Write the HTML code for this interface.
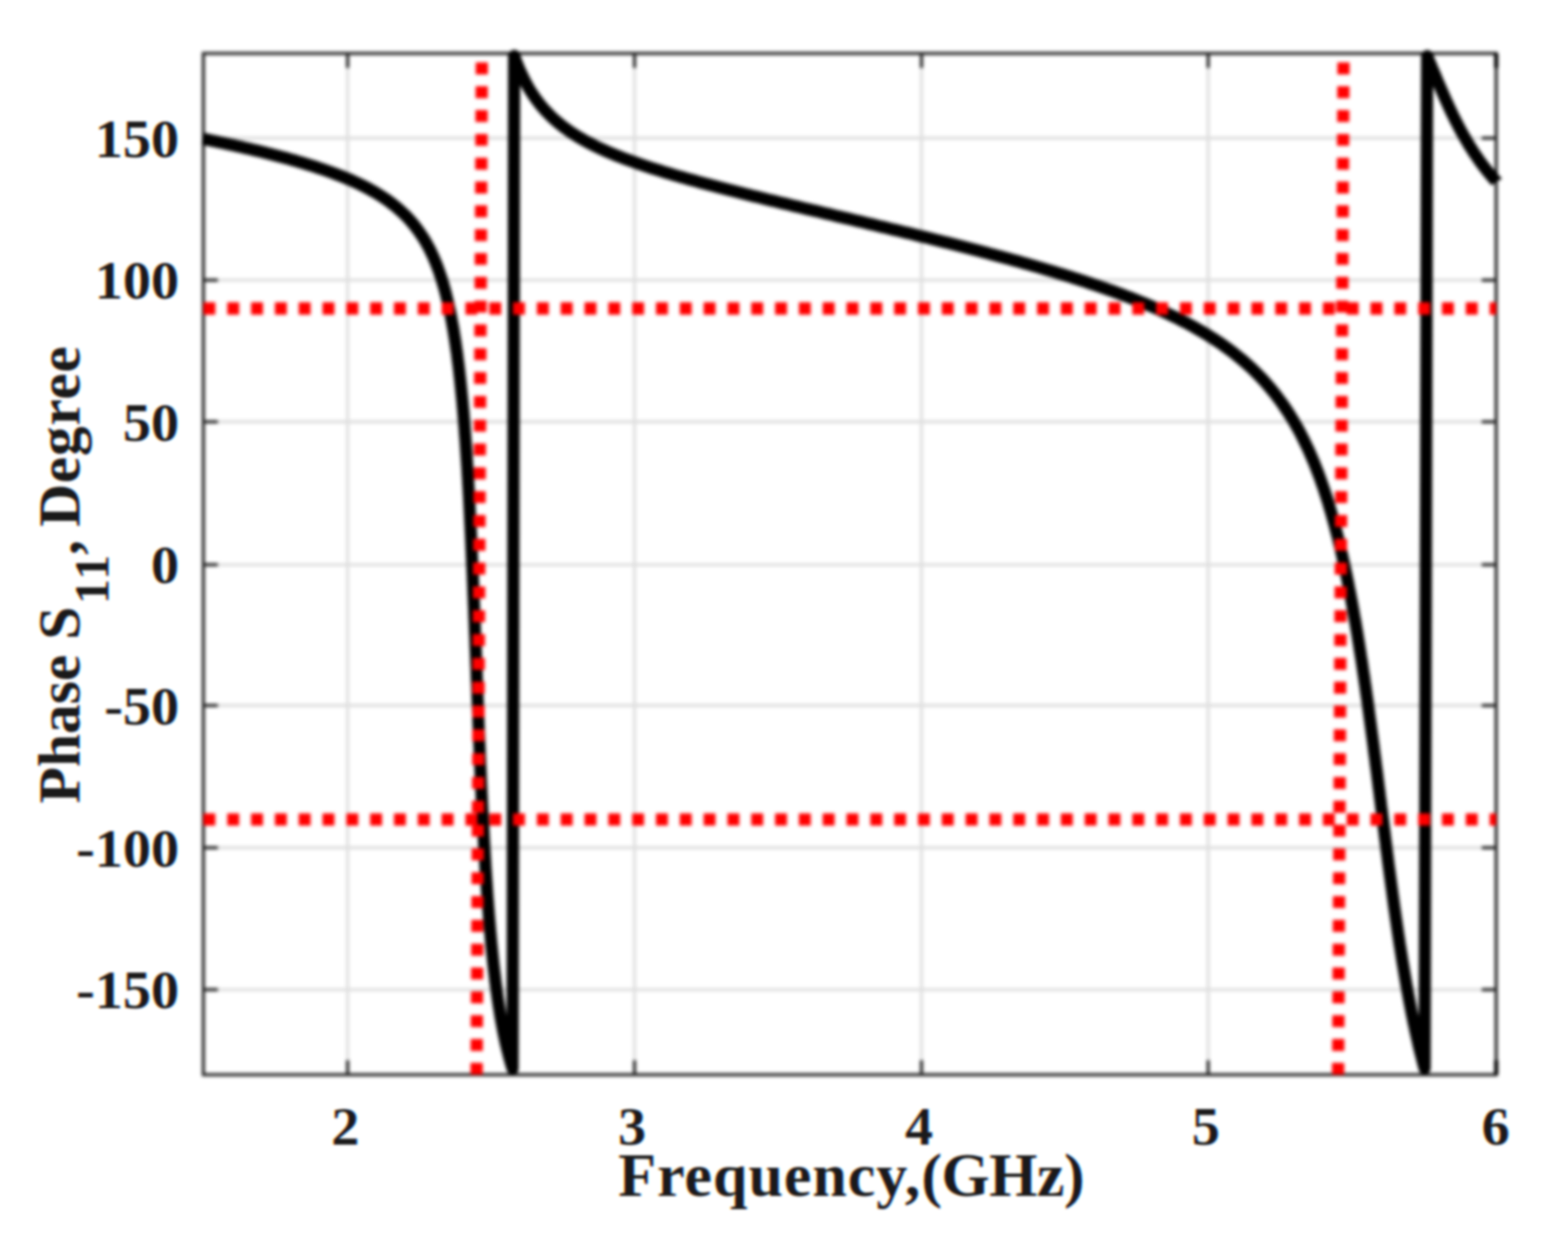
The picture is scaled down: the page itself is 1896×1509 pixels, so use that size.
<!DOCTYPE html>
<html lang="en"><head><meta charset="utf-8"><title>Phase S11 vs Frequency</title>
<style>
html,body{margin:0;padding:0;background:#fff;}
body{width:1896px;height:1509px;overflow:hidden;}
svg{display:block;}
text{font-family:"Liberation Serif","DejaVu Serif",serif;font-weight:bold;fill:#1a1a1a;}
.tk{font-size:66px;}
.lb{font-size:75px;}
.yl{font-size:72px;}
.sub{font-size:60px;}
</style></head><body>
<svg width="1896" height="1509" viewBox="0 0 1896 1509">
<defs>
<filter id="b" x="0" y="0" width="1896" height="1509" filterUnits="userSpaceOnUse" color-interpolation-filters="sRGB"><feGaussianBlur stdDeviation="2.2"/></filter>
<filter id="bt" x="-20" y="-20" width="1936" height="1549" filterUnits="userSpaceOnUse" color-interpolation-filters="sRGB"><feGaussianBlur stdDeviation="1.5" result="b"/><feOffset in="b" dx="1.2" dy="0" result="br"/><feOffset in="b" dx="-1.2" dy="0" result="bb"/><feColorMatrix in="br" type="matrix" values="1 0 0 0 0 0 0 0 0 0 0 0 0 0 0 0 0 0 1 0" result="R"/><feColorMatrix in="b" type="matrix" values="0 0 0 0 0 0 1 0 0 0 0 0 0 0 0 0 0 0 1 0" result="G"/><feColorMatrix in="bb" type="matrix" values="0 0 0 0 0 0 0 0 0 0 0 0 1 0 0 0 0 0 1 0" result="B"/><feComposite in="R" in2="G" operator="arithmetic" k1="0" k2="1" k3="1" k4="0" result="RG"/><feComposite in="RG" in2="B" operator="arithmetic" k1="0" k2="1" k3="1" k4="0"/></filter>
<clipPath id="ct"><path d="M0,0H231V1320H1896V1509H0Z"/></clipPath>
<clipPath id="cr"><rect x="245.9" y="66.6" width="1563.3" height="1232.9"/></clipPath>
</defs>
<rect width="1896" height="1509" fill="#fff"/>
<g filter="url(#b)">
<rect width="1896" height="1509" fill="#fff"/>
<g stroke="#dfdfdf" stroke-width="3.8" fill="none">
<line x1="420.4" y1="64.6" x2="420.4" y2="1299.5"/>
<line x1="767.3" y1="64.6" x2="767.3" y2="1299.5"/>
<line x1="1114.3" y1="64.6" x2="1114.3" y2="1299.5"/>
<line x1="1460.9" y1="64.6" x2="1460.9" y2="1299.5"/>
<line x1="245.9" y1="167.0" x2="1809.2" y2="167.0"/>
<line x1="245.9" y1="338.7" x2="1809.2" y2="338.7"/>
<line x1="245.9" y1="510.0" x2="1809.2" y2="510.0"/>
<line x1="245.9" y1="682.8" x2="1809.2" y2="682.8"/>
<line x1="245.9" y1="853.0" x2="1809.2" y2="853.0"/>
<line x1="245.9" y1="1025.0" x2="1809.2" y2="1025.0"/>
<line x1="245.9" y1="1196.6" x2="1809.2" y2="1196.6"/>
</g>
<g stroke="#262626" stroke-width="3.8" fill="none">
<rect x="245.9" y="64.6" width="1563.3" height="1234.9"/>
<line x1="420.4" y1="64.6" x2="420.4" y2="82.1"/><line x1="420.4" y1="1299.5" x2="420.4" y2="1282.0"/>
<line x1="767.3" y1="64.6" x2="767.3" y2="82.1"/><line x1="767.3" y1="1299.5" x2="767.3" y2="1282.0"/>
<line x1="1114.3" y1="64.6" x2="1114.3" y2="82.1"/><line x1="1114.3" y1="1299.5" x2="1114.3" y2="1282.0"/>
<line x1="1460.9" y1="64.6" x2="1460.9" y2="82.1"/><line x1="1460.9" y1="1299.5" x2="1460.9" y2="1282.0"/>
<line x1="1809.2" y1="64.6" x2="1809.2" y2="82.1" stroke="#000" stroke-width="5"/><line x1="1809.2" y1="1299.5" x2="1809.2" y2="1282.0" stroke="#000" stroke-width="5"/>
<line x1="245.9" y1="167.0" x2="263.4" y2="167.0"/><line x1="1809.2" y1="167.0" x2="1791.7" y2="167.0"/>
<line x1="245.9" y1="338.7" x2="263.4" y2="338.7"/><line x1="1809.2" y1="338.7" x2="1791.7" y2="338.7"/>
<line x1="245.9" y1="510.0" x2="263.4" y2="510.0"/><line x1="1809.2" y1="510.0" x2="1791.7" y2="510.0"/>
<line x1="245.9" y1="682.8" x2="263.4" y2="682.8"/><line x1="1809.2" y1="682.8" x2="1791.7" y2="682.8"/>
<line x1="245.9" y1="853.0" x2="263.4" y2="853.0"/><line x1="1809.2" y1="853.0" x2="1791.7" y2="853.0"/>
<line x1="245.9" y1="1025.0" x2="263.4" y2="1025.0"/><line x1="1809.2" y1="1025.0" x2="1791.7" y2="1025.0"/>
<line x1="245.9" y1="1196.6" x2="263.4" y2="1196.6"/><line x1="1809.2" y1="1196.6" x2="1791.7" y2="1196.6"/>
</g>
<path d="M245.4,167.8 248.3,168.4 251.2,169.0 254.2,169.6 257.1,170.3 260.1,170.9 263.0,171.5 265.9,172.1 268.9,172.7 271.8,173.4 274.7,174.0 277.7,174.6 280.6,175.3 283.5,175.9 286.4,176.6 289.4,177.2 292.3,177.9 295.2,178.6 298.1,179.3 301.1,179.9 304.0,180.6 306.9,181.3 309.8,182.0 312.7,182.7 315.7,183.4 318.6,184.1 321.5,184.9 324.4,185.6 327.3,186.3 330.2,187.1 333.1,187.8 336.0,188.6 338.9,189.4 341.8,190.1 344.7,190.9 347.6,191.7 350.5,192.5 353.4,193.3 356.3,194.1 359.1,195.0 362.0,195.8 364.9,196.7 367.8,197.5 370.6,198.4 373.5,199.3 376.4,200.2 379.2,201.1 382.1,202.0 384.9,203.0 387.8,203.9 390.6,204.9 393.5,205.9 396.3,206.9 399.1,207.9 401.9,208.9 404.7,210.0 407.5,211.0 410.3,212.1 413.1,213.2 415.9,214.3 418.7,215.5 421.4,216.6 424.2,217.8 426.9,219.0 429.7,220.3 432.4,221.5 435.1,222.8 437.8,224.1 440.5,225.5 443.2,226.9 445.8,228.3 448.4,229.7 451.1,231.2 453.7,232.7 456.2,234.2 458.8,235.8 461.3,237.4 463.8,239.0 466.3,240.7 468.8,242.4 471.2,244.2 473.6,246.0 476.0,247.8 478.3,249.7 480.6,251.6 482.9,253.6 485.1,255.6 487.3,257.6 489.5,259.7 491.6,261.8 493.7,264.0 495.7,266.2 497.7,268.5 499.6,270.8 501.5,273.1 503.3,275.5 505.1,277.9 506.9,280.3 508.6,282.8 510.3,285.3 511.9,287.8 513.4,290.3 515.0,292.9 516.4,295.5 517.9,298.2 519.3,300.8 520.6,303.5 521.9,306.2 523.2,308.9 524.4,311.7 525.6,314.4 526.7,317.2 527.9,320.0 528.9,322.8 530.0,325.6 531.0,328.4 532.0,331.3 532.9,334.1 533.9,337.0 534.8,339.8 535.6,342.7 536.5,345.6 537.3,348.5 538.1,351.3 538.8,354.2 539.6,357.2 540.3,360.1 541.0,363.0 541.7,365.9 542.4,368.8 543.0,371.8 543.7,374.7 544.3,377.6 544.9,380.6 545.5,383.5 546.0,386.5 546.6,389.4 547.1,392.4 547.6,395.3 548.2,398.3 548.7,401.2 549.1,404.2 549.6,407.1 550.1,410.1 550.5,413.1 551.0,416.0 551.4,419.0 551.8,422.0 552.3,424.9 552.7,427.9 553.1,430.9 553.4,433.9 553.8,436.8 554.2,439.8 554.6,442.8 554.9,445.8 555.3,448.8 555.6,451.7 555.9,454.7 556.3,457.7 556.6,460.7 556.9,463.7 557.2,466.6 557.5,469.6 557.8,472.6 558.1,475.6 558.4,478.6 558.7,481.6 559.0,484.6 559.3,487.6 559.5,490.5 559.8,493.5 560.1,496.5 560.3,499.5 560.6,502.5 560.8,505.5 561.1,508.5 561.3,511.5 561.5,514.5 561.8,517.4 562.0,520.4 562.2,523.4 562.4,526.4 562.7,529.4 562.9,532.4 563.1,535.4 563.3,538.4 563.5,541.4 563.7,544.4 563.9,547.4 564.1,550.4 564.3,553.4 564.5,556.3 564.7,559.3 564.9,562.3 565.1,565.3 565.3,568.3 565.4,571.3 565.6,574.3 565.8,577.3 566.0,580.3 566.1,583.3 566.3,586.3 566.5,589.3 566.7,592.3 566.8,595.3 567.0,598.3 567.2,601.3 567.3,604.3 567.5,607.3 567.6,610.3 567.8,613.3 567.9,616.2 568.1,619.2 568.2,622.2 568.4,625.2 568.5,628.2 568.7,631.2 568.8,634.2 569.0,637.2 569.1,640.2 569.3,643.2 569.4,646.2 569.6,649.2 569.7,652.2 569.8,655.2 570.0,658.2 570.1,661.2 570.2,664.2 570.4,667.2 570.5,670.2 570.6,673.2 570.8,676.2 570.9,679.2 571.0,682.2 571.2,685.2 571.3,688.2 571.4,691.2 571.6,694.2 571.7,697.2 571.8,700.2 571.9,703.2 572.1,706.2 572.2,709.2 572.3,712.2 572.4,715.1 572.5,718.1 572.7,721.1 572.8,724.1 572.9,727.1 573.0,730.1 573.2,733.1 573.3,736.1 573.4,739.1 573.5,742.1 573.6,745.1 573.7,748.1 573.9,751.1 574.0,754.1 574.1,757.1 574.2,760.1 574.3,763.1 574.4,766.1 574.6,769.1 574.7,772.1 574.8,775.1 574.9,778.1 575.0,781.1 575.1,784.1 575.3,787.1 575.4,790.1 575.5,793.1 575.6,796.1 575.7,799.1 575.8,802.1 575.9,805.1 576.1,808.1 576.2,811.1 576.3,814.1 576.4,817.1 576.5,820.1 576.6,823.1 576.8,826.1 576.9,829.1 577.0,832.1 577.1,835.1 577.2,838.1 577.3,841.1 577.4,844.0 577.6,847.0 577.7,850.0 577.8,853.0 577.9,856.0 578.0,859.0 578.2,862.0 578.3,865.0 578.4,868.0 578.5,871.0 578.6,874.0 578.7,877.0 578.9,880.0 579.0,883.0 579.1,886.0 579.2,889.0 579.4,892.0 579.5,895.0 579.6,898.0 579.7,901.0 579.9,904.0 580.0,907.0 580.1,910.0 580.2,913.0 580.4,916.0 580.5,919.0 580.6,922.0 580.7,925.0 580.9,928.0 581.0,931.0 581.1,934.0 581.3,937.0 581.4,940.0 581.5,943.0 581.7,946.0 581.8,949.0 582.0,952.0 582.1,955.0 582.2,957.9 582.4,960.9 582.5,963.9 582.7,966.9 582.8,969.9 582.9,972.9 583.1,975.9 583.2,978.9 583.4,981.9 583.5,984.9 583.7,987.9 583.8,990.9 584.0,993.9 584.1,996.9 584.3,999.9 584.5,1002.9 584.6,1005.9 584.8,1008.9 584.9,1011.9 585.1,1014.9 585.3,1017.9 585.4,1020.9 585.6,1023.9 585.8,1026.9 586.0,1029.9 586.1,1032.8 586.3,1035.8 586.5,1038.8 586.7,1041.8 586.8,1044.8 587.0,1047.8 587.2,1050.8 587.4,1053.8 587.6,1056.8 587.8,1059.8 588.0,1062.8 588.2,1065.8 588.4,1068.8 588.6,1071.8 588.8,1074.8 589.0,1077.8 589.2,1080.7 589.4,1083.7 589.6,1086.7 589.9,1089.7 590.1,1092.7 590.3,1095.7 590.5,1098.7 590.8,1101.7 591.0,1104.7 591.2,1107.7 591.5,1110.7 591.7,1113.7 592.0,1116.6 592.2,1119.6 592.5,1122.6 592.7,1125.6 593.0,1128.6 593.3,1131.6 593.5,1134.6 593.8,1137.6 594.1,1140.5 594.4,1143.5 594.7,1146.5 595.0,1149.5 595.3,1152.5 595.6,1155.5 595.9,1158.5 596.2,1161.4 596.5,1164.4 596.8,1167.4 597.2,1170.4 597.5,1173.4 597.9,1176.3 598.2,1179.3 598.6,1182.3 598.9,1185.3 599.3,1188.3 599.7,1191.2 600.1,1194.2 600.5,1197.2 600.9,1200.2 601.3,1203.1 601.7,1206.1 602.1,1209.1 602.6,1212.0 603.0,1215.0 603.5,1218.0 604.0,1220.9 604.4,1223.9 604.9,1226.9 605.4,1229.8 605.9,1232.8 606.5,1235.7 607.0,1238.7 607.6,1241.6 608.1,1244.6 608.7,1247.5 609.3,1250.4 609.9,1253.4 610.5,1256.3 611.2,1259.2 611.8,1262.2 612.5,1265.1 613.2,1268.0 613.9,1270.9 614.7,1273.8 615.4,1276.7 616.2,1279.6 617.0,1282.5 617.8,1285.4 618.7,1288.3 619.6,1291.2 619.8,1292.1 L621.7,67.6 622.7,70.4 623.7,73.2 624.8,76.0 625.9,78.8 627.1,81.6 628.2,84.4 629.5,87.1 630.7,89.8 632.0,92.5 633.3,95.2 634.7,97.9 636.1,100.6 637.5,103.2 639.0,105.8 640.5,108.4 642.1,110.9 643.7,113.4 645.4,115.9 647.1,118.4 648.9,120.8 650.7,123.2 652.5,125.6 654.4,127.9 656.4,130.2 658.4,132.5 660.4,134.7 662.5,136.8 664.6,139.0 666.7,141.1 668.9,143.1 671.1,145.1 673.4,147.1 675.7,149.0 678.0,150.9 680.4,152.8 682.8,154.6 685.2,156.3 687.7,158.1 690.1,159.8 692.6,161.4 695.2,163.0 697.7,164.6 700.3,166.2 702.9,167.7 705.5,169.2 708.1,170.6 710.7,172.0 713.4,173.4 716.1,174.8 718.7,176.2 721.4,177.5 724.2,178.8 726.9,180.0 729.6,181.3 732.3,182.5 735.1,183.7 737.8,184.9 740.6,186.0 743.4,187.2 746.2,188.3 749.0,189.4 751.8,190.5 754.6,191.6 757.4,192.6 760.2,193.7 763.0,194.7 765.8,195.7 768.6,196.7 771.5,197.7 774.3,198.7 777.1,199.7 780.0,200.6 782.8,201.6 785.7,202.5 788.5,203.4 791.4,204.3 794.3,205.2 797.1,206.1 800.0,207.0 802.9,207.9 805.7,208.8 808.6,209.6 811.5,210.5 814.4,211.4 817.2,212.2 820.1,213.0 823.0,213.9 825.9,214.7 828.8,215.5 831.7,216.3 834.5,217.1 837.4,217.9 840.3,218.7 843.2,219.5 846.1,220.3 849.0,221.1 851.9,221.9 854.8,222.6 857.7,223.4 860.6,224.2 863.5,224.9 866.4,225.7 869.3,226.5 872.2,227.2 875.1,228.0 878.0,228.7 880.9,229.5 883.8,230.2 886.7,230.9 889.7,231.7 892.6,232.4 895.5,233.1 898.4,233.9 901.3,234.6 904.2,235.3 907.1,236.0 910.0,236.8 912.9,237.5 915.9,238.2 918.8,238.9 921.7,239.6 924.6,240.3 927.5,241.1 930.4,241.8 933.3,242.5 936.3,243.2 939.2,243.9 942.1,244.6 945.0,245.3 947.9,246.0 950.8,246.7 953.8,247.4 956.7,248.1 959.6,248.8 962.5,249.5 965.4,250.2 968.3,250.9 971.3,251.6 974.2,252.3 977.1,253.0 980.0,253.7 982.9,254.3 985.9,255.0 988.8,255.7 991.7,256.4 994.6,257.1 997.5,257.8 1000.5,258.5 1003.4,259.2 1006.3,259.9 1009.2,260.6 1012.1,261.3 1015.0,262.0 1018.0,262.7 1020.9,263.3 1023.8,264.0 1026.7,264.7 1029.6,265.4 1032.6,266.1 1035.5,266.8 1038.4,267.5 1041.3,268.2 1044.2,268.9 1047.2,269.6 1050.1,270.3 1053.0,271.0 1055.9,271.7 1058.8,272.4 1061.7,273.1 1064.7,273.8 1067.6,274.5 1070.5,275.2 1073.4,275.9 1076.3,276.6 1079.2,277.3 1082.2,278.0 1085.1,278.7 1088.0,279.4 1090.9,280.1 1093.8,280.8 1096.7,281.5 1099.7,282.2 1102.6,282.9 1105.5,283.6 1108.4,284.3 1111.3,285.1 1114.2,285.8 1117.1,286.5 1120.1,287.2 1123.0,287.9 1125.9,288.6 1128.8,289.4 1131.7,290.1 1134.6,290.8 1137.5,291.5 1140.4,292.3 1143.3,293.0 1146.3,293.7 1149.2,294.5 1152.1,295.2 1155.0,295.9 1157.9,296.7 1160.8,297.4 1163.7,298.2 1166.6,298.9 1169.5,299.7 1172.4,300.4 1175.3,301.2 1178.2,301.9 1181.1,302.7 1184.0,303.4 1186.9,304.2 1189.8,305.0 1192.7,305.7 1195.6,306.5 1198.5,307.3 1201.4,308.0 1204.3,308.8 1207.2,309.6 1210.1,310.4 1213.0,311.2 1215.9,312.0 1218.8,312.7 1221.7,313.5 1224.6,314.3 1227.5,315.1 1230.4,315.9 1233.3,316.7 1236.1,317.6 1239.0,318.4 1241.9,319.2 1244.8,320.0 1247.7,320.8 1250.6,321.7 1253.5,322.5 1256.3,323.3 1259.2,324.2 1262.1,325.0 1265.0,325.9 1267.8,326.7 1270.7,327.6 1273.6,328.4 1276.5,329.3 1279.3,330.2 1282.2,331.1 1285.1,331.9 1287.9,332.8 1290.8,333.7 1293.7,334.6 1296.5,335.5 1299.4,336.4 1302.2,337.3 1305.1,338.3 1308.0,339.2 1310.8,340.1 1313.7,341.1 1316.5,342.0 1319.3,343.0 1322.2,343.9 1325.0,344.9 1327.9,345.8 1330.7,346.8 1333.5,347.8 1336.4,348.8 1339.2,349.8 1342.0,350.8 1344.9,351.8 1347.7,352.8 1350.5,353.9 1353.3,354.9 1356.1,356.0 1358.9,357.0 1361.7,358.1 1364.5,359.1 1367.3,360.2 1370.1,361.3 1372.9,362.4 1375.7,363.5 1378.5,364.7 1381.3,365.8 1384.0,366.9 1386.8,368.1 1389.6,369.3 1392.3,370.4 1395.1,371.6 1397.8,372.8 1400.6,374.0 1403.3,375.3 1406.0,376.5 1408.8,377.8 1411.5,379.0 1414.2,380.3 1416.9,381.6 1419.6,382.9 1422.3,384.2 1425.0,385.5 1427.7,386.9 1430.3,388.3 1433.0,389.6 1435.7,391.0 1438.3,392.5 1440.9,393.9 1443.6,395.3 1446.2,396.8 1448.8,398.3 1451.4,399.8 1454.0,401.3 1456.6,402.8 1459.1,404.4 1461.7,406.0 1464.2,407.6 1466.8,409.2 1469.3,410.8 1471.8,412.5 1474.3,414.1 1476.7,415.8 1479.2,417.5 1481.6,419.3 1484.1,421.0 1486.5,422.8 1488.9,424.6 1491.3,426.4 1493.6,428.3 1496.0,430.2 1498.3,432.1 1500.6,434.0 1502.9,435.9 1505.2,437.9 1507.4,439.9 1509.7,441.9 1511.9,443.9 1514.1,445.9 1516.2,448.0 1518.4,450.1 1520.5,452.2 1522.6,454.4 1524.7,456.5 1526.7,458.7 1528.8,460.9 1530.8,463.2 1532.7,465.4 1534.7,467.7 1536.6,470.0 1538.5,472.3 1540.4,474.6 1542.3,477.0 1544.1,479.4 1545.9,481.7 1547.7,484.2 1549.5,486.6 1551.2,489.0 1552.9,491.5 1554.6,494.0 1556.3,496.5 1557.9,499.0 1559.5,501.5 1561.1,504.1 1562.7,506.6 1564.2,509.2 1565.7,511.8 1567.2,514.4 1568.7,517.0 1570.1,519.6 1571.6,522.3 1573.0,524.9 1574.3,527.6 1575.7,530.3 1577.0,533.0 1578.3,535.7 1579.6,538.4 1580.9,541.1 1582.2,543.8 1583.4,546.5 1584.6,549.3 1585.8,552.0 1587.0,554.8 1588.2,557.6 1589.3,560.3 1590.4,563.1 1591.5,565.9 1592.6,568.7 1593.7,571.5 1594.7,574.3 1595.8,577.1 1596.8,579.9 1597.8,582.8 1598.8,585.6 1599.8,588.4 1600.8,591.3 1601.7,594.1 1602.6,597.0 1603.6,599.8 1604.5,602.7 1605.4,605.5 1606.3,608.4 1607.1,611.3 1608.0,614.2 1608.8,617.0 1609.7,619.9 1610.5,622.8 1611.3,625.7 1612.1,628.6 1612.9,631.5 1613.7,634.4 1614.5,637.3 1615.2,640.2 1616.0,643.1 1616.7,646.0 1617.5,648.9 1618.2,651.8 1618.9,654.7 1619.6,657.6 1620.3,660.5 1621.0,663.4 1621.7,666.4 1622.4,669.3 1623.1,672.2 1623.7,675.1 1624.4,678.1 1625.0,681.0 1625.7,683.9 1626.3,686.9 1626.9,689.8 1627.6,692.7 1628.2,695.7 1628.8,698.6 1629.4,701.5 1630.0,704.5 1630.6,707.4 1631.1,710.4 1631.7,713.3 1632.3,716.3 1632.9,719.2 1633.4,722.2 1634.0,725.1 1634.5,728.0 1635.1,731.0 1635.6,733.9 1636.2,736.9 1636.7,739.9 1637.2,742.8 1637.7,745.8 1638.3,748.7 1638.8,751.7 1639.3,754.6 1639.8,757.6 1640.3,760.5 1640.8,763.5 1641.3,766.5 1641.8,769.4 1642.2,772.4 1642.7,775.3 1643.2,778.3 1643.7,781.3 1644.1,784.2 1644.6,787.2 1645.1,790.2 1645.5,793.1 1646.0,796.1 1646.5,799.0 1646.9,802.0 1647.4,805.0 1647.8,807.9 1648.2,810.9 1648.7,813.9 1649.1,816.8 1649.6,819.8 1650.0,822.8 1650.4,825.8 1650.9,828.7 1651.3,831.7 1651.7,834.7 1652.1,837.6 1652.5,840.6 1653.0,843.6 1653.4,846.5 1653.8,849.5 1654.2,852.5 1654.6,855.5 1655.0,858.4 1655.4,861.4 1655.8,864.4 1656.2,867.4 1656.6,870.3 1657.0,873.3 1657.4,876.3 1657.8,879.2 1658.2,882.2 1658.6,885.2 1659.0,888.2 1659.4,891.1 1659.8,894.1 1660.2,897.1 1660.6,900.1 1661.0,903.0 1661.3,906.0 1661.7,909.0 1662.1,912.0 1662.5,914.9 1662.9,917.9 1663.3,920.9 1663.6,923.9 1664.0,926.8 1664.4,929.8 1664.8,932.8 1665.2,935.8 1665.5,938.7 1665.9,941.7 1666.3,944.7 1666.7,947.7 1667.0,950.7 1667.4,953.6 1667.8,956.6 1668.2,959.6 1668.5,962.6 1668.9,965.5 1669.3,968.5 1669.7,971.5 1670.0,974.5 1670.4,977.4 1670.8,980.4 1671.2,983.4 1671.5,986.4 1671.9,989.3 1672.3,992.3 1672.7,995.3 1673.0,998.3 1673.4,1001.3 1673.8,1004.2 1674.2,1007.2 1674.5,1010.2 1674.9,1013.2 1675.3,1016.1 1675.7,1019.1 1676.1,1022.1 1676.4,1025.1 1676.8,1028.0 1677.2,1031.0 1677.6,1034.0 1678.0,1037.0 1678.3,1039.9 1678.7,1042.9 1679.1,1045.9 1679.5,1048.9 1679.9,1051.8 1680.3,1054.8 1680.7,1057.8 1681.1,1060.8 1681.5,1063.7 1681.9,1066.7 1682.3,1069.7 1682.7,1072.7 1683.1,1075.6 1683.5,1078.6 1683.9,1081.6 1684.3,1084.5 1684.7,1087.5 1685.1,1090.5 1685.5,1093.5 1685.9,1096.4 1686.3,1099.4 1686.8,1102.4 1687.2,1105.3 1687.6,1108.3 1688.0,1111.3 1688.5,1114.3 1688.9,1117.2 1689.3,1120.2 1689.8,1123.2 1690.2,1126.1 1690.6,1129.1 1691.1,1132.1 1691.5,1135.0 1692.0,1138.0 1692.4,1141.0 1692.9,1143.9 1693.4,1146.9 1693.8,1149.9 1694.3,1152.8 1694.8,1155.8 1695.2,1158.7 1695.7,1161.7 1696.2,1164.7 1696.7,1167.6 1697.2,1170.6 1697.7,1173.5 1698.2,1176.5 1698.7,1179.5 1699.2,1182.4 1699.7,1185.4 1700.2,1188.3 1700.7,1191.3 1701.3,1194.2 1701.8,1197.2 1702.3,1200.1 1702.9,1203.1 1703.4,1206.0 1704.0,1209.0 1704.5,1211.9 1705.1,1214.9 1705.7,1217.8 1706.2,1220.8 1706.8,1223.7 1707.4,1226.7 1708.0,1229.6 1708.6,1232.5 1709.2,1235.5 1709.8,1238.4 1710.5,1241.3 1711.1,1244.3 1711.7,1247.2 1712.4,1250.1 1713.0,1253.1 1713.7,1256.0 1714.4,1258.9 1715.0,1261.8 1715.7,1264.8 1716.4,1267.7 1717.1,1270.6 1717.8,1273.5 1718.6,1276.4 1719.3,1279.3 1720.1,1282.2 1720.8,1285.1 1721.6,1288.0 1722.4,1290.9 1722.6,1291.8 L1725.7,67.9 1726.8,70.7 1728.0,73.5 1729.1,76.2 1730.3,79.0 1731.4,81.8 1732.6,84.6 1733.8,87.3 1734.9,90.1 1736.1,92.8 1737.3,95.6 1738.4,98.4 1739.6,101.1 1740.8,103.9 1742.0,106.6 1743.2,109.4 1744.4,112.1 1745.6,114.9 1746.8,117.6 1748.0,120.4 1749.3,123.1 1750.5,125.8 1751.8,128.6 1753.0,131.3 1754.3,134.0 1755.6,136.7 1756.9,139.4 1758.2,142.1 1759.6,144.8 1760.9,147.5 1762.3,150.1 1763.7,152.8 1765.1,155.4 1766.5,158.1 1767.9,160.7 1769.4,163.3 1770.9,165.9 1772.4,168.5 1773.9,171.1 1775.4,173.7 1777.0,176.3 1778.6,178.8 1780.2,181.3 1781.8,183.9 1783.5,186.4 1785.2,188.9 1786.9,191.3 1788.6,193.8 1790.3,196.2 1792.1,198.6 1793.9,201.0 1795.8,203.4 1797.6,205.8 1799.5,208.1 1801.4,210.4 1803.3,212.7 1805.3,215.0 1807.3,217.2 1809.3,219.4 1809.4,219.6" fill="none" stroke="#000" stroke-width="14.7" stroke-linejoin="round" stroke-linecap="butt"/>
<g clip-path="url(#cr)" stroke="#ff0000" stroke-width="14.8" fill="none" stroke-dasharray="14.4 14.40">
<line x1="246.0" y1="373.0" x2="1849.2" y2="373.0"/>
<line x1="246.0" y1="990.8" x2="1849.2" y2="990.8"/>
<line x1="576.3" y1="1299.5" x2="583.01" y2="4.599999999999994"/>
<line x1="1618.0" y1="1299.5" x2="1624.92" y2="4.599999999999994"/>
</g>
</g>
<g clip-path="url(#ct)"><g filter="url(#bt)"><path d="M-40,-40H239V1312H1936V1549H-40Z" fill="#fff"/>
<text class="tk" transform="translate(216.5,189.6) scale(1.03,1)" text-anchor="end">150</text>
<text class="tk" transform="translate(216.5,361.3) scale(1.03,1)" text-anchor="end">100</text>
<text class="tk" transform="translate(216.5,532.6) scale(1.03,1)" text-anchor="end">50</text>
<text class="tk" transform="translate(216.5,705.4) scale(1.03,1)" text-anchor="end">0</text>
<text class="tk" transform="translate(216.5,875.6) scale(1.03,1)" text-anchor="end">-50</text>
<text class="tk" transform="translate(216.5,1047.6) scale(1.03,1)" text-anchor="end">-100</text>
<text class="tk" transform="translate(216.5,1219.2) scale(1.03,1)" text-anchor="end">-150</text>
<text class="tk" transform="translate(417.4,1384.1) scale(1.03,1)" text-anchor="middle">2</text>
<text class="tk" transform="translate(764.3,1384.1) scale(1.03,1)" text-anchor="middle">3</text>
<text class="tk" transform="translate(1111.3,1384.1) scale(1.03,1)" text-anchor="middle">4</text>
<text class="tk" transform="translate(1457.9,1384.1) scale(1.03,1)" text-anchor="middle">5</text>
<text class="tk" transform="translate(1808.5,1384.1) scale(1.03,1)" text-anchor="middle">6</text>
<text class="lb" x="747.5" y="1446" dx="0 1.15 1.15 1.15 1.15 1.15 1.15 1.15 1.15 1.15 1.15 -0.6 -0.6 -0.6 -0.6">Frequency,(GHz)</text>
<text class="yl" transform="translate(95.5,971.5) rotate(-90)" dx="0 0 0 0 0 0 0 3.3 2.5 0.00 0 -2 0.75 0.75 0.75 0.75 0.75" dy="0 0 0 0 0 0 0 35.5 0 -35.5 0 0 0 0 0 0 0">Phase S<tspan class="sub">11</tspan>, Degree</text>
</g></g>
</svg></body></html>
